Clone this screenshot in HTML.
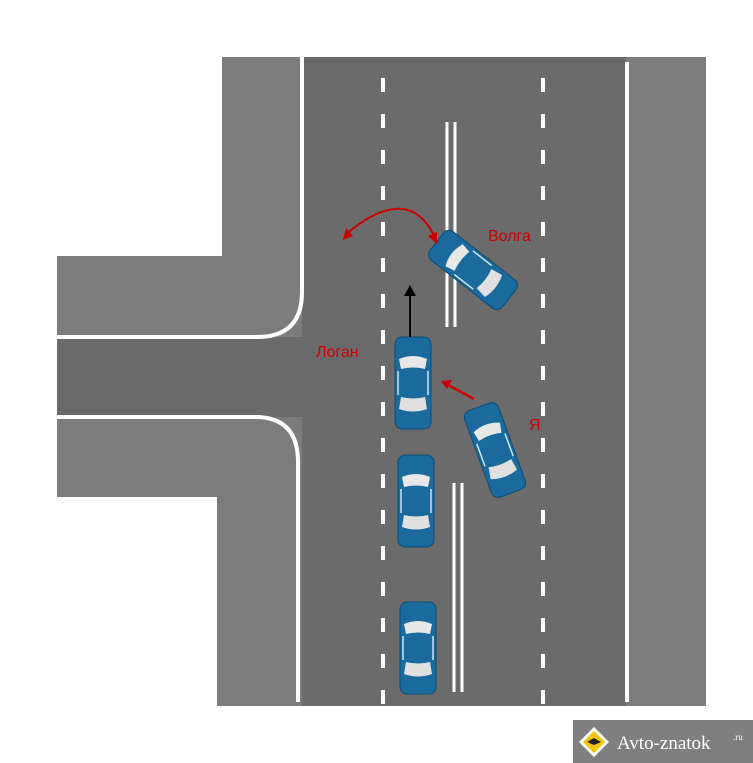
<!DOCTYPE html>
<html><head><meta charset="utf-8"><style>body{margin:0;background:#fff}svg{display:block}</style></head><body>
<svg width="753" height="763" viewBox="0 0 753 763" xmlns="http://www.w3.org/2000/svg">
<defs>
<g id="car">
<rect x="-18" y="-46" width="36" height="92" rx="7" fill="#1a6a9e" stroke="#0e4d76" stroke-width="1"/>
<path d="M-14,-24 Q0,-30 14,-24 L12,-14 Q0,-17 -12,-14Z" fill="#e8e8e8"/>
<path d="M-12,14 Q0,17 12,14 L14,26 Q0,31 -14,26Z" fill="#e0e0e0"/>
<rect x="-12" y="-13" width="24" height="26" fill="#1a6a9e"/>
<line x1="-15" y1="-12" x2="-15" y2="12" stroke="#cfe3ef" stroke-width="1.5"/>
<line x1="15" y1="-12" x2="15" y2="12" stroke="#cfe3ef" stroke-width="1.5"/>
</g>
</defs>
<rect x="222" y="57" width="484" height="649" fill="#7c7c7c"/>
<rect x="57" y="256" width="245" height="241" fill="#7c7c7c"/>
<rect x="217" y="497" width="85" height="209" fill="#7c7c7c"/>
<rect x="302" y="57" width="324" height="649" fill="#6b6b6b"/>
<rect x="57" y="337" width="245" height="80" fill="#6b6b6b"/>
<path d="M302,57 V292 Q302,337 257,337 H57" fill="none" stroke="#fff" stroke-width="4"/>
<path d="M57,417 H255 Q298,417 298,462 V702" fill="none" stroke="#fff" stroke-width="4"/>
<line x1="627" y1="62" x2="627" y2="702" stroke="#fff" stroke-width="4"/>
<line x1="383" y1="78" x2="383" y2="706" stroke="#fff" stroke-width="4" stroke-dasharray="14,22"/>
<line x1="543" y1="78" x2="543" y2="706" stroke="#fff" stroke-width="4" stroke-dasharray="14,22"/>
<line x1="447" y1="122" x2="447" y2="327" stroke="#fff" stroke-width="3"/>
<line x1="455" y1="122" x2="455" y2="327" stroke="#fff" stroke-width="3"/>
<line x1="454" y1="483" x2="454" y2="692" stroke="#fff" stroke-width="3"/>
<line x1="462" y1="483" x2="462" y2="692" stroke="#fff" stroke-width="3"/>
<use href="#car" transform="translate(413,383)"/>
<use href="#car" transform="translate(416,501)"/>
<use href="#car" transform="translate(418,648)"/>
<use href="#car" transform="translate(473,270) rotate(-52)"/>
<use href="#car" transform="translate(495,450) rotate(-20)"/>
<line x1="410" y1="337" x2="410" y2="292" stroke="#000" stroke-width="2"/>
<path d="M404,296 L410,285 L416,296Z" fill="#000"/>
<path d="M436,240 Q410,180 345,235" fill="none" stroke="#c00" stroke-width="2"/>
<path d="M343,240 L346,228 L353,236Z" fill="#c00"/>
<path d="M437,244 L428,236 L437,232Z" fill="#c00"/>
<line x1="474" y1="399" x2="448" y2="385" stroke="#c00" stroke-width="2.5"/>
<path d="M441,381 L452,380 L447,389Z" fill="#c00"/>
<g font-family="Liberation Sans, DejaVu Sans, sans-serif" fill="#c00" font-size="16">
<text x="488" y="241">Волга</text>
<text x="316" y="357">Логан</text>
<text x="529" y="430">Я</text>
</g>
<rect x="573" y="720" width="180" height="43" fill="#7f7f7f"/>
<path d="M594,727 L609,742 L594,757 L579,742Z" fill="#fff"/>
<path d="M594,731 L605,742 L594,753 L583,742Z" fill="#f2c500"/>
<path d="M587,742 L594,738 L601,742 L594,745Z" fill="#222"/>
<text x="617" y="749" font-family="Liberation Serif, serif" font-size="19" fill="#fff">Avto-znatok</text>
<text x="733" y="740" font-family="Liberation Serif, serif" font-size="9" fill="#fff">.ru</text>
</svg>
</body></html>
